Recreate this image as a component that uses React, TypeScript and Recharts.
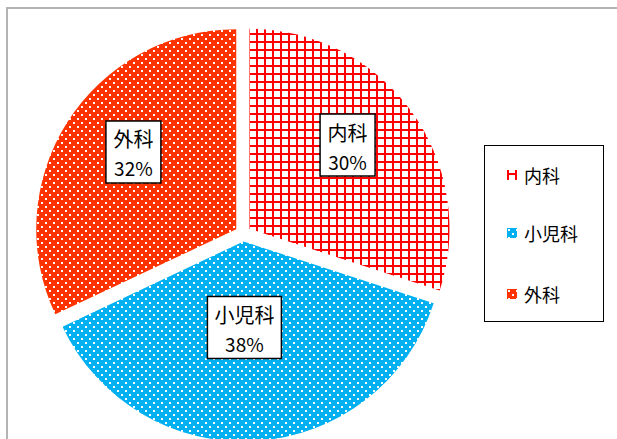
import { PieChart, Pie, Cell, Legend } from "recharts";

const departments = ["内科", "小児科", "外科"];
const shares = [30, 38, 32];
const fills = ["url(#gridRed)", "url(#dotsBlue)", "url(#dotsOrange)"];
// where the boxed labels sit inside each slice (fraction of radius, angle nudge)
const labelRatio = [0.645, 0.43, 0.643];
const labelTurn = [4.5, -3, -4.5];

const data = departments.map((name, i) => ({ name, value: shares[i] }));
const total = shares.reduce((a, b) => a + b, 0);

const CX = 235;
const CY = 224.5;
const R = 200;
const EXPLODE = 8;
const RAD = Math.PI / 180;
const FONT = '"Noto Sans CJK JP", "Noto Sans", sans-serif';

// pull each slice outwards along its own bisector
function offsetFor(i: number) {
  const before = shares.slice(0, i).reduce((a, b) => a + b, 0);
  const mid = 90 - ((before + shares[i] / 2) / total) * 360;
  return { dx: EXPLODE * Math.cos(mid * RAD), dy: -EXPLODE * Math.sin(mid * RAD) };
}

function makeLabel(target: number) {
  return (props: any) => {
    const { cx, cy, midAngle, outerRadius, index, name, percent } = props;
    if (index !== target) return null;
    const r = outerRadius * labelRatio[index];
    const a = (midAngle + labelTurn[index]) * RAD;
    const x = cx + r * Math.cos(-a);
    const y = cy + r * Math.sin(-a);
    const w = String(name).length * 19 + 17;
    const h = 62;
    return (
      <g>
        <rect x={x - w / 2} y={y - h / 2} width={w} height={h} fill="#fff" stroke="#000" strokeWidth={1.5} />
        <text x={x} y={y - 13} textAnchor="middle" dominantBaseline="central" fontSize={20} fontFamily={FONT} fill="#000">
          {name}
        </text>
        <text x={x} y={y + 16} textAnchor="middle" dominantBaseline="central" fontSize={19} fontFamily={FONT} fill="#000">
          {`${Math.round(percent * 100)}%`}
        </text>
      </g>
    );
  };
}

function LegendBox() {
  return (
    <div
      style={{
        width: 118,
        height: 175,
        border: "1.5px solid #000",
        background: "#fff",
        fontFamily: FONT,
        fontSize: 18,
        color: "#000",
        boxSizing: "content-box",
      }}
    >
      {departments.map((name, i) => (
        <div
          key={name}
          style={{
            position: "absolute",
            left: 23,
            top: [30, 88, 149][i] - 11,
            display: "flex",
            alignItems: "center",
            height: 22,
          }}
        >
          <svg width={10} height={10} style={{ marginRight: 7 }}>
            <rect width={10} height={10} fill={i === 0 ? "url(#gridIcon)" : fills[i]} />
          </svg>
          <span>{name}</span>
        </div>
      ))}
    </div>
  );
}

export default function App() {
  return (
    <div
      style={{
        position: "absolute",
        left: 6,
        top: 7,
        width: 640,
        height: 460,
        border: "2px solid #b4b4b4",
        background: "#fff",
      }}
    >
      <PieChart width={620} height={440} margin={{ top: 0, right: 0, bottom: 0, left: 0 }}>
        <defs>
          <pattern id="gridRed" patternUnits="userSpaceOnUse" width={8} height={8}>
            <rect width={8} height={8} fill="#fff" />
            <rect x={0} y={0} width={2} height={8} fill="#ff0000" />
            <rect x={0} y={0} width={8} height={2} fill="#ff0000" />
          </pattern>
          <pattern id="gridIcon" patternUnits="userSpaceOnUse" width={10} height={10}>
            <rect width={10} height={10} fill="#fff" />
            <rect x={0} y={0} width={2} height={10} fill="#ff0000" />
            <rect x={8} y={0} width={2} height={10} fill="#ff0000" />
            <rect x={0} y={3} width={10} height={2} fill="#ff0000" />
          </pattern>
          <pattern id="dotsBlue" patternUnits="userSpaceOnUse" width={8} height={8}>
            <rect width={8} height={8} fill="#00b0f0" />
            <rect x={1} y={1} width={2} height={2} fill="#fff" />
            <rect x={5} y={5} width={2} height={2} fill="#fff" />
          </pattern>
          <pattern id="dotsOrange" patternUnits="userSpaceOnUse" width={8} height={8}>
            <rect width={8} height={8} fill="#ff3300" />
            <rect x={1} y={1} width={2} height={2} fill="#fff" />
            <rect x={5} y={5} width={2} height={2} fill="#fff" />
          </pattern>
        </defs>
        {departments.map((dep, t) => {
          const { dx, dy } = offsetFor(t);
          return (
            <Pie
              key={dep}
              data={data}
              dataKey="value"
              nameKey="name"
              cx={CX + dx}
              cy={CY + dy}
              outerRadius={R}
              startAngle={90}
              endAngle={-270}
              stroke="none"
              labelLine={false}
              label={makeLabel(t)}
              isAnimationActive={false}
            >
              {data.map((d, i) => (
                <Cell key={d.name} fill={i === t ? fills[i] : "none"} />
              ))}
            </Pie>
          );
        })}
        <Legend
          content={() => <LegendBox />}
          wrapperStyle={{ position: "absolute", left: 476, top: 136, width: 121, height: 178, bottom: "auto" }}
        />
      </PieChart>
    </div>
  );
}
